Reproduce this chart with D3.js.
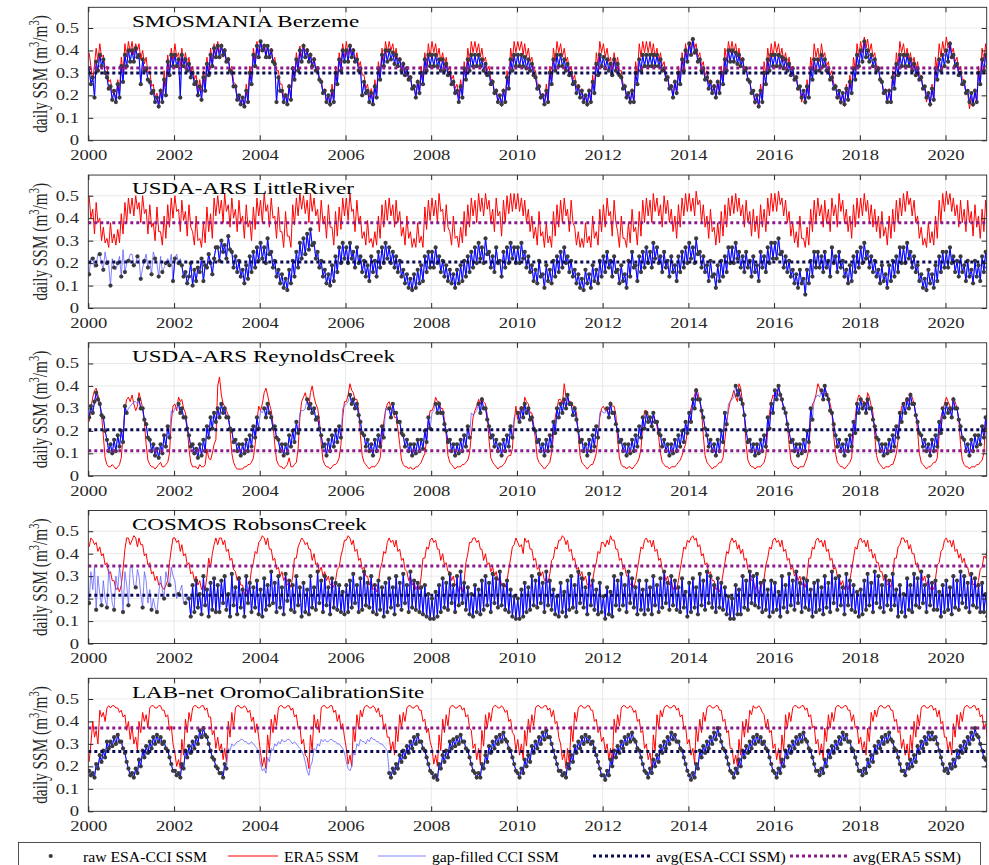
<!DOCTYPE html>
<html>
<head>
<meta charset="utf-8">
<script src="https://cdn.jsdelivr.net/npm/d3@7"></script>
<style>
  body { margin: 0; background: #fff; }
  svg { display: block; }
  text { font-family: "Liberation Serif", "Times New Roman", serif; }
</style>
</head>
<body>
<div id="chart"></div>
<script>
const _ = null; // no value for that half-month

const siteNames = ['SMOSMANIA Berzeme', 'USDA-ARS LittleRiver', 'USDA-ARS ReynoldsCreek',
                   'COSMOS RobsonsCreek', 'LAB-net OromoCalibrationSite'];
const yearTicks = [2000, 2002, 2004, 2006, 2008, 2010, 2012, 2014, 2016, 2018, 2020];
const ssmTicks = [0, 0.1, 0.2, 0.3, 0.4, 0.5];
const legendLabels = ['raw ESA-CCI SSM', 'ERA5 SSM', 'gap-filled CCI SSM', 'avg(ESA-CCI SSM)', 'avg(ERA5 SSM)'];

// long-term means, m3/m3
const avgCci  = [0.30, 0.205, 0.205, 0.215, 0.266];
const avgEra5 = [0.322, 0.38, 0.112, 0.345, 0.371];

// half-monthly SSM Jan 2000 .. Dec 2020, in 0.01 m3/m3, one row per year
const berzemeEra5 = [
  39,33, 26,34, 41,35, 43,37, 38,32, 33,26, 27,21, 22,18, 27,21, 37,30, 43,37, 44,39,
  44,38, 43,40, 43,36, 40,34, 37,30, 31,24, 25,19, 21,16, 23,18, 31,24, 38,31, 41,35,
  43,37, 39,33, 41,34, 39,33, 37,30, 33,27, 29,22, 27,21, 31,24, 37,30, 41,35, 43,37,
  44,39, 43,37, 41,35, 37,31, 33,26, 25,19, 20,16, 18,15, 25,19, 33,27, 41,35, 44,39,
  44,40, 43,38, 42,37, 41,35, 37,31, 31,25, 25,19, 21,16, 25,19, 33,27, 39,33, 42,37,
  43,37, 41,35, 39,33, 37,31, 33,27, 27,21, 23,17, 20,15, 25,19, 33,27, 39,33, 43,37,
  44,38, 43,37, 41,35, 39,33, 35,29, 29,23, 25,19, 23,17, 27,21, 35,29, 41,35, 44,39,
  44,40, 43,37, 41,35, 37,31, 35,29, 33,27, 29,23, 25,19, 27,21, 33,27, 39,33, 43,37,
  44,39, 43,37, 41,35, 39,33, 37,31, 33,27, 29,23, 25,19, 27,21, 35,29, 41,35, 44,39,
  44,39, 43,37, 41,35, 37,31, 33,27, 27,21, 23,17, 20,15, 23,17, 31,25, 41,35, 44,39,
  44,40, 44,38, 43,37, 41,35, 37,31, 31,25, 25,19, 21,16, 25,19, 33,27, 41,35, 44,39,
  43,37, 41,35, 37,31, 33,27, 29,23, 25,19, 23,17, 20,15, 23,17, 29,23, 39,33, 44,39,
  43,37, 41,35, 37,31, 39,33, 37,31, 31,25, 25,19, 21,16, 23,17, 35,29, 43,37, 44,39,
  44,39, 44,38, 43,37, 41,35, 39,33, 35,29, 29,23, 25,19, 27,21, 33,27, 39,33, 43,37,
  44,40, 46,41, 43,37, 39,33, 35,29, 31,25, 27,21, 25,19, 27,21, 33,27, 41,35, 44,39,
  44,39, 43,37, 41,35, 37,31, 33,27, 27,21, 21,16, 19,15, 25,19, 35,29, 41,35, 43,37,
  44,39, 43,37, 41,35, 39,33, 37,31, 33,27, 29,23, 23,17, 21,16, 27,21, 37,31, 43,37,
  41,35, 43,37, 39,33, 35,29, 31,25, 25,19, 21,16, 21,15, 25,19, 29,23, 37,31, 43,37,
  44,39, 46,41, 45,39, 43,37, 39,33, 33,27, 27,21, 23,17, 23,17, 31,25, 39,33, 44,39,
  43,37, 41,35, 39,33, 37,31, 35,29, 29,23, 23,17, 21,15, 25,19, 37,31, 43,37, 44,39,
  46,41, 44,39, 41,35, 37,31, 33,27, 27,21, 21,14, 19,15, 23,17, 33,27, 41,35, 43,37
];
const berzemeCci = [
  32,25, 28,19, 35,31, 38,33, 36,30, 28,23, 24,18, 22,17, 25,19, 33,26, 38,33, 40,35,
  40,35, 41,37, 38,25, 36,31, 32,27, 26,21, 22,17, 19,15, 22,17, 27,20, 35,29, 38,33,
  38,33, 36,19, 38,33, 36,31, 34,28, 30,25, 26,20, 24,18, 28,22, 34,29, 38,33, 41,37,
  42,37, 42,38, 40,35, 36,31, 30,24, 24,18, 20,16, 19,15, 22,17, 30,25, 38,33, 42,37,
  44,40, 42,37, 42,37, 40,35, 34,17, 28,22, 22,17, 20,16, 24,18, 32,27, 36,31, 40,35,
  42,37, 40,35, 38,33, 36,31, 32,27, 26,21, 22,17, 20,16, 22,17, 30,25, 36,31, 40,35,
  40,35, 42,37, 40,35, 36,31, 32,20, 26,21, 22,17, 21,16, 24,19, 32,27, 38,33, 40,35,
  40,36, 39,34, 38,33, 36,31, 34,29, 32,27, 28,23, 24,19, 26,21, 30,25, 36,31, 38,33,
  38,33, 38,33, 36,31, 36,31, 34,29, 30,25, 26,21, 22,17, 24,19, 32,27, 36,31, 38,33,
  38,33, 38,33, 36,31, 34,29, 30,25, 26,21, 22,17, 20,16, 22,17, 28,23, 36,31, 38,33,
  38,33, 38,33, 37,32, 36,31, 34,29, 28,23, 24,19, 20,16, 22,17, 30,25, 36,31, 38,33,
  38,33, 36,31, 34,29, 30,25, 26,21, 24,19, 22,17, 20,16, 22,17, 26,21, 34,29, 38,33,
  37,32, 36,31, 34,29, 36,31, 34,29, 28,23, 24,19, 21,17, 22,17, 30,25, 36,31, 38,33,
  38,33, 38,33, 38,33, 38,33, 36,31, 32,27, 28,23, 24,19, 26,21, 30,25, 36,31, 40,35,
  43,38, 45,39, 40,35, 36,31, 32,27, 28,23, 26,21, 24,19, 26,21, 30,25, 36,31, 40,35,
  40,35, 39,34, 38,33, 36,31, 32,27, 26,21, 22,17, 20,15, 22,17, 30,25, 36,31, 38,33,
  38,33, 38,33, 37,32, 36,31, 34,29, 32,27, 28,23, 24,19, 22,17, 24,19, 32,27, 36,31,
  36,31, 38,33, 36,31, 32,27, 28,23, 24,19, 22,17, 21,16, 23,18, 26,21, 32,27, 38,33,
  40,35, 44,37, 40,35, 38,33, 36,31, 32,27, 26,21, 22,17, 22,17, 28,23, 34,29, 38,33,
  38,33, 38,33, 36,31, 34,29, 32,27, 28,23, 24,19, 21,16, 23,18, 32,27, 36,31, 38,33,
  40,35, 43,37, 38,33, 34,29, 30,25, 26,21, 22,17, 21,16, 22,17, 30,25, 36,31, 38,33
];
const berzemeFill = [];

const littleRiverEra5 = [
  50,40, 44,33, 47,38, 40,30, 36,29, 31,27, 38,29, 33,28, 35,29, 42,33, 47,38, 49,42,
  49,41, 50,44, 47,38, 50,42, 44,33, 46,36, 38,30, 45,34, 34,28, 41,31, 46,36, 49,40,
  50,43, 44,34, 48,39, 43,32, 46,36, 34,28, 41,30, 31,27, 38,29, 45,34, 42,31, 49,41,
  50,42, 48,38, 51,43, 46,36, 49,40, 44,34, 48,38, 41,31, 46,36, 39,30, 45,35, 49,41,
  48,38, 51,43, 46,36, 49,40, 41,31, 45,34, 34,27, 43,32, 32,27, 46,37, 49,41, 51,44,
  50,42, 48,38, 51,43, 49,41, 44,34, 48,38, 41,31, 46,36, 36,28, 43,32, 45,35, 49,41,
  49,39, 51,43, 44,34, 48,38, 41,31, 34,28, 39,29, 31,27, 34,28, 41,31, 46,36, 48,39,
  49,41, 46,36, 48,38, 43,32, 36,28, 41,31, 34,27, 31,27, 38,29, 32,27, 45,35, 48,39,
  49,41, 48,38, 51,43, 44,34, 46,36, 34,28, 41,31, 32,27, 36,29, 43,32, 46,36, 49,41,
  48,38, 51,43, 49,41, 51,44, 48,38, 44,34, 49,41, 43,32, 48,38, 50,42, 51,43, 51,44,
  51,43, 49,41, 48,38, 44,34, 41,31, 36,28, 43,32, 34,27, 38,29, 32,27, 43,32, 46,36,
  48,38, 49,41, 44,34, 48,38, 36,28, 34,27, 31,27, 38,29, 32,27, 41,31, 34,28, 44,34,
  46,36, 49,41, 43,32, 48,38, 34,27, 41,31, 31,27, 38,29, 44,34, 36,28, 43,32, 48,38,
  49,41, 48,38, 51,43, 49,41, 46,36, 50,42, 48,38, 44,34, 41,31, 46,36, 49,41, 51,43,
  51,43, 49,41, 52,46, 48,38, 46,36, 41,31, 44,34, 36,28, 38,29, 43,32, 46,36, 49,41,
  50,42, 51,43, 49,41, 46,36, 48,38, 43,32, 44,34, 41,31, 46,36, 44,34, 49,41, 51,43,
  51,43, 52,46, 49,41, 48,38, 43,32, 38,29, 34,27, 41,31, 31,27, 36,28, 44,34, 48,38,
  49,41, 46,36, 48,38, 44,34, 49,41, 46,36, 51,43, 48,38, 44,34, 41,31, 46,36, 49,40,
  49,41, 51,43, 48,38, 46,36, 44,34, 41,31, 43,32, 36,28, 41,31, 44,34, 48,38, 49,41,
  51,43, 52,46, 49,41, 48,38, 41,31, 36,28, 31,27, 38,29, 34,28, 41,31, 48,38, 51,43,
  52,46, 51,43, 49,41, 46,36, 48,38, 44,34, 48,38, 43,32, 46,36, 41,31, 44,34, 48,38
];
const littleRiverCci = [
  15,_, 22,_, 19,_, 24,_, 17,_, 20,_, 10,_, 18,_, 20,_, 14,_, 16,_, 21,_,
  _,19, _,23, _,13, _,21, _,18, _,15, _,22, _,14, _,16, _,20, _,19, _,12,
  22,_, 20,_, 19,14, 16,11, 14,20, 10,17, 12,18, 16,22, 12,19, 18,24, 20,15, 22,27,
  27,21, 30,25, 28,22, 32,26, 25,18, 23,16, 21,14, 17,11, 19,13, 23,16, 25,18, 27,21,
  29,22, 27,20, 31,24, 25,18, 21,14, 17,11, 15,9, 13,8, 17,11, 21,14, 25,18, 29,22,
  31,24, 33,26, 35,28, 29,22, 25,18, 21,14, 17,11, 15,10, 19,12, 23,16, 27,20, 29,22,
  27,20, 29,22, 25,18, 27,20, 23,16, 21,14, 19,12, 23,16, 21,14, 25,18, 27,20, 29,22,
  27,20, 25,18, 23,16, 21,14, 17,11, 15,9, 13,8, 15,9, 17,11, 19,12, 23,16, 25,18,
  25,18, 27,20, 23,16, 21,14, 19,12, 17,11, 15,9, 17,11, 19,12, 21,14, 23,16, 25,18,
  27,20, 29,22, 27,20, 31,24, 25,18, 23,16, 27,20, 21,14, 25,18, 27,20, 29,22, 27,20,
  27,20, 29,22, 25,18, 23,16, 19,12, 17,11, 21,14, 15,9, 19,12, 17,11, 21,14, 23,16,
  25,18, 27,20, 23,16, 21,14, 17,11, 15,9, 13,8, 17,11, 15,9, 19,12, 17,11, 21,14,
  23,16, 25,18, 21,14, 23,16, 17,11, 19,12, 15,9, 21,14, 25,18, 19,12, 23,16, 25,18,
  27,20, 25,18, 29,22, 27,20, 23,16, 25,18, 21,14, 23,16, 19,12, 23,16, 25,18, 27,20,
  29,22, 27,20, 31,24, 25,18, 23,16, 19,12, 21,14, 15,9, 19,12, 21,14, 23,16, 27,20,
  27,20, 29,22, 25,18, 23,16, 25,18, 21,14, 23,16, 19,12, 25,18, 23,16, 27,20, 29,22,
  29,22, 31,24, 25,18, 23,16, 21,14, 17,11, 15,9, 17,11, 13,6, 17,11, 21,14, 25,18,
  25,18, 23,16, 25,18, 21,14, 27,20, 23,16, 25,18, 21,14, 17,11, 19,12, 23,16, 25,18,
  27,20, 29,22, 25,18, 23,16, 21,14, 17,11, 19,12, 15,9, 19,12, 21,14, 23,16, 27,20,
  27,20, 29,22, 25,18, 23,16, 19,12, 15,9, 13,8, 17,11, 15,9, 19,12, 23,16, 25,18,
  25,18, 27,20, 23,16, 21,14, 23,16, 19,12, 21,14, 17,11, 21,14, 19,12, 23,16, 25,18
];
const littleRiverFill = [
  _,22, _,18, _,24, _,20, _,25, _,19, _,22, _,17, _,23, _,26, _,20, _,24,
  24,_, 20,_, 22,_, 18,_, 24,_, 21,_, 25,_, 20,_, 23,_, 18,_, 22,_, 24,_,
  _,24, _,22
];

const reynoldsEra5 = [
  24,30, 35,38, 39,36, 33,27, 18,8, 5,4, 4,5, 4,3, 4,5, 8,18, 30,34, 35,33,
  36,32, 29,31, 37,34, 30,24, 14,7, 5,4, 4,3, 4,5, 6,4, 4,5, 6,10, 24,31,
  32,29, 35,33, 34,30, 28,22, 12,6, 4,4, 4,3, 5,4, 4,5, 12,8, 7,10, 14,16,
  40,44, 36,32, 31,29, 27,20, 10,6, 4,3, 3,3, 3,4, 4,5, 5,6, 8,14, 24,31,
  29,32, 37,39, 36,32, 29,23, 14,7, 5,4, 4,3, 4,5, 8,4, 4,5, 6,12, 26,33,
  35,37, 33,31, 37,40, 35,32, 30,25, 14,7, 5,4, 4,3, 4,5, 5,6, 8,14, 26,33,
  33,36, 41,38, 37,34, 34,29, 18,9, 6,5, 4,3, 4,4, 4,5, 6,8, 16,24, 29,32,
  33,30, 29,26, 26,21, 14,7, 5,4, 4,3, 4,3, 3,4, 4,5, 6,8, 10,16, 24,29,
  29,31, 35,33, 33,30, 30,25, 18,9, 6,5, 4,3, 4,4, 4,5, 5,6, 7,10, 18,26,
  29,31, 34,32, 35,33, 32,27, 16,8, 6,5, 4,3, 4,4, 5,6, 8,9, 9,12, 24,31,
  25,28, 31,29, 35,33, 32,28, 28,23, 16,8, 6,5, 4,3, 4,5, 6,10, 18,26, 30,34,
  34,32, 41,35, 35,33, 33,31, 31,28, 18,9, 6,5, 4,3, 4,5, 5,7, 10,18, 26,30,
  31,29, 29,27, 33,31, 31,27, 16,8, 5,4, 4,3, 4,4, 3,4, 5,6, 8,12, 22,29,
  29,27, 25,23, 27,25, 22,17, 10,6, 5,4, 4,3, 4,4, 4,5, 6,7, 9,12, 14,20,
  26,30, 33,36, 39,37, 33,29, 18,9, 6,5, 4,3, 4,4, 5,6, 6,8, 16,24, 29,33,
  35,38, 35,33, 41,39, 32,26, 14,7, 5,4, 4,3, 4,4, 4,5, 6,9, 20,28, 33,36,
  35,37, 39,37, 33,31, 28,23, 14,7, 5,4, 4,3, 4,4, 4,6, 8,12, 24,32, 33,36,
  41,39, 37,35, 39,37, 35,32, 28,18, 10,6, 5,4, 4,3, 4,5, 6,8, 18,26, 33,36,
  35,33, 33,31, 37,35, 31,28, 18,9, 6,5, 4,3, 4,4, 4,5, 5,7, 10,16, 24,31,
  31,33, 35,33, 37,35, 32,27, 20,10, 6,5, 4,3, 4,4, 5,6, 6,8, 18,26, 29,32,
  35,33, 31,29, 35,33, 30,25, 14,7, 5,4, 4,3, 4,4, 4,5, 5,6, 7,10, 24,31
];
const reynoldsCci = [
  26,31, 28,33, 37,34, 32,27, 26,20, 16,11, 14,10, 16,11, 18,13, 20,15, 31,28, _,_,
  _,_, _,_, 34,30, 30,25, 23,17, 16,11, 14,9, 12,8, 14,10, 18,13, 22,17, _,_,
  _,_, 32,28, 30,26, 26,21, 18,13, 14,10, 12,8, 14,9, 16,11, 22,17, 26,21, 28,24,
  30,26, 32,28, 30,26, 26,21, 20,15, 16,11, 14,9, 14,10, 16,11, 18,13, 22,17, 26,21,
  _,_, 30,26, 32,28, 26,21, 22,17, 16,11, 14,9, 14,10, 18,13, 20,15, 24,19, _,_,
  _,_, 34,30, 32,28, 30,25, 26,21, 18,13, 14,9, 16,11, 18,13, 20,15, 22,17, _,_,
  _,_, 36,32, 34,30, 32,27, 24,19, 18,13, 16,11, 14,9, 16,11, 18,13, 22,17, _,_,
  30,26, 32,28, 28,24, 24,19, 18,13, 16,11, 14,9, 14,10, 16,11, 16,12, 20,15, 26,21,
  _,_, 32,28, 32,28, 28,23, 20,15, 16,11, 14,9, 14,10, 16,11, 18,13, 22,17, _,_,
  _,_, 32,28, 34,30, 30,25, 22,17, 18,13, 16,11, 14,9, 16,11, 18,13, 22,17, _,_,
  28,24, 30,26, 32,28, 30,25, 26,21, 20,15, 16,11, 14,9, 16,11, 18,13, 24,19, 30,26,
  32,28, 34,30, 36,32, 32,27, 30,25, 20,15, 16,11, 14,9, 16,11, 18,13, 22,17, _,_,
  _,_, 30,26, 32,28, 28,23, 20,15, 16,11, 14,9, 14,10, 16,11, 18,13, 22,17, 26,21,
  28,24, 26,22, 28,24, 24,19, 18,13, 16,11, 14,9, 14,10, 16,11, 18,13, 20,15, 24,19,
  28,24, 34,30, 38,34, 34,29, 26,21, 18,13, 16,11, 14,9, 16,11, 20,15, 28,23, _,_,
  _,_, 40,36, 38,34, 32,27, 20,15, 16,11, 14,9, 14,10, 16,11, 18,13, 26,21, 32,28,
  38,34, 40,36, 34,30, 28,23, 20,15, 16,11, 14,9, 14,10, 16,11, 20,15, 30,25, _,_,
  _,_, 38,34, 40,36, 34,29, 28,23, 18,13, 16,11, 14,9, 16,11, 18,13, 24,19, 32,28,
  34,30, 32,28, 34,30, 30,25, 22,17, 16,11, 14,9, 14,10, 16,11, 18,13, 22,17, 28,24,
  32,28, 34,30, 36,32, 32,27, 24,19, 18,13, 16,11, 14,9, 16,11, 18,13, 24,19, 30,26,
  32,28, 30,26, 34,30, 30,25, 22,17, 16,11, 14,9, 16,11, 18,13, 18,14, 22,17, 26,21
];
const reynoldsFill = [
  _,_, _,_, _,_, _,_, _,_, _,_, _,_, _,_, _,_, _,_, _,_, 30,31,
  32,33, 33,32, _,_, _,_, _,_, _,_, _,_, _,_, _,_, _,_, _,_, 29,28,
  30,30, _,_, _,_, _,_, _,_, _,_, _,_, _,_, _,_, _,_, _,_, _,_,
  _,_, _,_, _,_, _,_, _,_, _,_, _,_, _,_, _,_, _,_, _,_, _,_,
  29,28, _,_, _,_, _,_, _,_, _,_, _,_, _,_, _,_, _,_, _,_, 28,29,
  29,30, _,_, _,_, _,_, _,_, _,_, _,_, _,_, _,_, _,_, _,_, 30,31,
  32,33, _,_, _,_, _,_, _,_, _,_, _,_, _,_, _,_, _,_, _,_, 30,29,
  _,_, _,_, _,_, _,_, _,_, _,_, _,_, _,_, _,_, _,_, _,_, _,_,
  28,29, _,_, _,_, _,_, _,_, _,_, _,_, _,_, _,_, _,_, _,_, 28,27,
  28,29, _,_, _,_, _,_, _,_, _,_, _,_, _,_, _,_, _,_, _,_, 26,27,
  _,_, _,_, _,_, _,_, _,_, _,_, _,_, _,_, _,_, _,_, _,_, _,_,
  _,_, _,_, _,_, _,_, _,_, _,_, _,_, _,_, _,_, _,_, _,_, 28,29,
  28,28, _,_, _,_, _,_, _,_, _,_, _,_, _,_, _,_, _,_, _,_, _,_,
  _,_, _,_, _,_, _,_, _,_, _,_, _,_, _,_, _,_, _,_, _,_, _,_,
  _,_, _,_, _,_, _,_, _,_, _,_, _,_, _,_, _,_, _,_, _,_, 32,33,
  34,35, _,_, _,_, _,_, _,_, _,_, _,_, _,_, _,_, _,_, _,_, _,_,
  _,_, _,_, _,_, _,_, _,_, _,_, _,_, _,_, _,_, _,_, _,_, 34,35,
  36,35
];

const robsonsEra5 = [
  43,47, 46,44, 45,41, 43,39, 40,35, 36,31, 32,28, 28,24, 25,23, 26,33, 42,47, 47,44,
  46,48, 47,43, 47,44, 44,39, 40,35, 36,31, 32,28, 30,26, 27,25, 24,26, 28,36, 42,47,
  47,45, 46,41, 44,39, 40,35, 36,31, 32,28, 30,26, 28,24, 26,24, 30,38, 34,40, 44,47,
  44,47, 47,44, 46,41, 42,37, 38,33, 32,28, 30,26, 26,22, 24,22, 27,33, 36,41, 40,45,
  46,48, 47,44, 47,42, 42,37, 38,33, 34,30, 32,28, 30,26, 27,25, 30,38, 38,43, 45,47,
  46,44, 45,42, 42,37, 40,35, 36,32, 34,30, 32,28, 30,26, 27,25, 28,33, 34,39, 42,46,
  46,48, 47,44, 46,41, 42,37, 38,33, 34,30, 30,26, 28,24, 25,23, 27,33, 36,41, 40,45,
  47,45, 46,43, 46,41, 42,37, 38,33, 32,28, 30,26, 28,24, 26,24, 30,38, 38,43, 42,46,
  47,45, 46,42, 42,37, 40,35, 36,32, 32,28, 30,26, 27,23, 25,23, 28,36, 40,45, 45,47,
  47,45, 46,42, 42,37, 40,35, 36,32, 34,30, 32,28, 30,26, 27,25, 28,33, 38,43, 44,47,
  45,43, 44,40, 47,45, 46,42, 42,37, 38,33, 34,30, 32,28, 29,27, 31,37, 38,43, 42,46,
  46,48, 47,44, 46,41, 42,37, 38,33, 34,30, 32,28, 30,26, 27,25, 28,33, 36,41, 40,45,
  45,43, 46,44, 48,46, 46,42, 42,37, 38,33, 34,30, 30,26, 27,25, 28,33, 38,43, 42,46,
  47,45, 46,43, 46,41, 42,37, 38,33, 32,28, 30,26, 28,24, 26,24, 28,33, 38,43, 42,46,
  45,47, 48,46, 47,43, 44,39, 40,35, 36,31, 32,28, 28,24, 25,23, 26,31, 36,41, 40,45,
  47,45, 46,42, 44,40, 42,37, 38,33, 32,28, 28,24, 26,22, 24,27, 29,35, 38,43, 42,46,
  47,45, 46,43, 46,41, 42,37, 38,33, 34,30, 32,28, 30,26, 27,25, 30,38, 38,43, 42,46,
  47,45, 46,43, 46,41, 42,37, 38,33, 34,30, 30,26, 28,24, 26,24, 28,33, 38,43, 42,46,
  47,45, 46,43, 46,41, 42,38, 40,36, 36,32, 32,28, 30,26, 27,25, 30,38, 38,43, 44,47,
  47,45, 46,42, 44,40, 40,35, 36,32, 32,28, 30,26, 28,24, 26,24, 29,35, 36,41, 42,46,
  47,45, 46,43, 46,41, 42,38, 40,36, 38,34, 34,30, 30,26, 27,25, 28,33, 34,39, 38,42
];
const robsonsCci = [
  18,_, _,_, 15,_, _,17, _,_, 16,_, _,_, 15,_, _,_, _,14, _,_, 17,_,
  _,_, 25,_, _,_, 16,_, _,_, _,15, _,_, 14,_, _,_, 20,_, _,26, _,_,
  _,_, 22,_, _,_, 18,_, 20,12, 26,14, 28,16, 22,13, 30,17, 24,12, 27,15, 29,14,
  26,14, 28,18, 30,15, 22,12, 31,17, 25,13, 29,16, 24,12, 30,18, 27,14, 25,16, 28,13,
  24,12, 29,15, 26,17, 32,18, 27,14, 30,16, 25,13, 31,19, 28,15, 26,14, 30,17, 25,12,
  27,14, 24,13, 30,16, 25,15, 32,18, 28,14, 30,17, 25,13, 29,16, 27,15, 26,14, 23,13,
  26,14, 28,16, 31,18, 26,14, 29,15, 32,17, 27,16, 30,14, 26,13, 28,15, 25,12, 27,14,
  29,16, 25,13, 30,17, 27,15, 31,18, 26,14, 32,16, 28,15, 27,14, 25,13, 26,12, 22,11,
  20,11, 23,12, 26,14, 29,16, 27,15, 31,18, 26,14, 30,17, 32,18, 27,15, 25,13, 22,12,
  26,14, 24,13, 28,15, 30,17, 27,14, 31,18, 29,16, 32,17, 26,15, 28,14, 24,12, 21,11,
  20,11, 24,12, 27,14, 25,15, 30,17, 28,16, 31,18, 27,14, 32,17, 28,15, 24,13, 21,12,
  27,14, 23,12, 28,15, 30,16, 26,14, 32,18, 29,16, 25,13, 31,17, 28,15, 24,13, 27,14,
  21,11, 25,13, 23,12, 30,17, 28,15, 31,17, 26,14, 32,18, 29,16, 25,13, 28,15, 24,13,
  28,15, 25,13, 30,17, 26,14, 29,16, 32,18, 27,15, 30,17, 28,15, 25,14, 29,16, 23,12,
  27,14, 29,16, 25,13, 31,17, 28,15, 32,18, 30,16, 26,14, 29,16, 27,15, 25,13, 21,11,
  20,11, 26,13, 24,13, 30,16, 28,15, 32,18, 30,17, 31,16, 27,14, 28,15, 24,12, 28,14,
  27,15, 23,12, 30,16, 26,14, 31,17, 28,15, 32,18, 27,14, 29,16, 28,15, 24,12, 27,14,
  28,15, 25,13, 30,16, 27,14, 32,18, 29,15, 30,17, 25,13, 31,17, 28,15, 26,14, 23,12,
  24,13, 28,15, 31,17, 27,14, 32,18, 30,16, 26,14, 30,17, 28,15, 31,17, 24,12, 26,14,
  22,12, 29,15, 26,14, 31,17, 29,16, 32,18, 26,14, 30,17, 27,15, 28,15, 23,12, 26,14,
  28,15, 25,13, 30,16, 28,15, 32,18, 30,16, 27,14, 31,17, 29,16, 26,14, 27,14, 22,12
];
const robsonsFill = [
  _,32, 24,34, _,30, 22,_, 28,20, _,33, 26,18, _,30, 24,34, 28,_, 32,26, _,34,
  34,26, _,33, 30,22, _,32, 28,18, 24,_, 20,16, _,22, 30,24, _,32, 28,_, 34,30,
  28,20, _,24, 26,18, _,22
];

const oromoEra5 = [
  22,30, 40,33, 36,30, 45,42, 44,40, 46,47, 46,47, 47,46, 46,44, 45,42, 43,36, 40,32,
  38,30, 33,27, 40,35, 44,40, 43,37, 46,47, 47,46, 46,47, 47,45, 45,42, 43,36, 38,30,
  26,20, 23,19, 32,25, 41,35, 44,40, 46,47, 47,46, 46,47, 47,45, 46,42, 42,34, 36,28,
  33,27, 30,23, 28,22, 40,33, 44,37, 46,47, 47,46, 46,47, 46,44, 45,40, 42,35, 39,33,
  26,20, 24,19, 34,27, 41,35, 43,38, 46,47, 47,46, 46,47, 47,45, 46,42, 43,37, 38,30,
  32,25, 24,19, 34,27, 43,37, 41,35, 46,47, 47,46, 46,47, 47,44, 45,40, 43,37, 39,33,
  28,21, 25,20, 37,31, 43,37, 45,42, 46,47, 47,46, 46,47, 46,44, 46,42, 43,37, 39,33,
  33,27, 31,25, 37,31, 43,37, 44,40, 46,47, 47,46, 46,47, 47,45, 45,40, 41,35, 37,31,
  28,21, 25,20, 34,27, 41,35, 43,38, 46,47, 47,46, 46,47, 47,45, 46,42, 43,37, 36,28,
  30,23, 28,21, 36,29, 43,37, 44,40, 46,47, 47,46, 46,47, 46,44, 45,40, 41,35, 34,27,
  32,25, 30,23, 36,29, 41,35, 43,38, 46,47, 47,46, 46,47, 47,45, 46,42, 45,39, 40,33,
  30,23, 26,19, 28,21, 38,31, 44,40, 46,47, 47,46, 46,47, 47,45, 45,40, 41,35, 37,31,
  33,27, 30,23, 28,21, 41,35, 43,38, 46,47, 47,46, 46,47, 46,44, 45,40, 41,35, 36,28,
  30,23, 26,19, 34,27, 43,37, 45,42, 46,47, 47,46, 46,47, 47,45, 46,42, 43,37, 38,30,
  32,25, 28,21, 37,31, 41,35, 44,40, 46,47, 47,46, 46,47, 47,45, 45,40, 41,35, 36,28,
  28,21, 25,20, 32,25, 40,33, 41,35, 45,43, 47,46, 46,47, 46,44, 43,37, 41,35, 36,28,
  30,23, 28,21, 34,27, 43,37, 44,40, 46,47, 47,46, 46,47, 47,45, 46,42, 43,37, 38,30,
  32,25, 30,23, 37,31, 43,37, 44,40, 46,47, 47,46, 46,47, 47,45, 45,40, 43,37, 38,30,
  33,27, 31,25, 37,31, 44,40, 45,42, 46,47, 47,46, 46,47, 47,45, 45,40, 41,35, 36,28,
  32,25, 30,23, 34,27, 40,33, 43,38, 46,47, 47,46, 46,47, 47,45, 46,42, 45,39, 40,33,
  33,27, 31,25, 39,33, 43,37, 44,40, 46,47, 47,46, 46,47, 47,45, 46,42, 43,37, 39,33
];
const oromoCci = [
  18,16, 17,15, 21,19, 25,22, 27,24, 31,28, 31,29, 33,30, 34,31, 31,28, 26,22, 19,16,
  17,15, 19,17, 23,20, 27,24, 29,26, 31,28, 33,30, 34,31, 33,30, 31,28, 27,24, 21,18,
  18,16, 17,15, 21,19, 27,24, 29,26, 31,28, 33,30, 36,33, 37,34, 33,30, 27,24, 23,20,
  19,17, 17,15, 21,19, _,_, _,_, _,_, _,_, _,_, _,_, _,_, _,_, _,_,
  _,_, _,_, _,_, _,_, _,_, _,_, _,_, _,_, _,_, _,_, _,_, _,_,
  _,_, _,_, _,_, _,_, _,_, _,_, _,_, _,_, _,_, _,_, _,_, _,_,
  _,_, _,_, _,_, _,_, _,_, _,_, _,_, _,_, _,_, _,_, _,_, _,_,
  17,15, 19,17, 21,19, 25,22, 27,24, 29,26, 31,28, 33,30, 34,31, 31,28, 27,24, 21,18,
  17,15, 16,14, 21,19, 25,22, 27,24, 31,28, 32,29, 33,30, 34,31, 31,28, 27,24, 21,18,
  17,15, 17,15, 21,19, 25,22, 29,26, 31,28, 33,30, 34,31, 35,32, 31,28, 27,24, 21,18,
  17,15, 19,17, 23,20, 25,22, 29,26, 31,28, 33,30, 35,32, 36,33, 33,30, 27,24, 21,18,
  18,16, 17,15, 21,19, 25,22, 29,26, 31,28, 33,30, 34,31, 33,30, 31,28, 25,22, 19,16,
  16,14, 18,16, 23,20, 27,24, 29,26, 31,28, 33,30, 34,31, 35,32, 31,28, 27,24, 21,18,
  17,15, 19,17, 23,20, 25,22, 29,26, 31,28, 33,30, 35,32, 34,31, 31,28, 27,24, 21,18,
  16,14, 17,15, 21,19, 27,24, 29,26, 31,28, 33,30, 35,32, 37,34, 31,28, 27,24, 21,18,
  17,15, 19,17, 23,20, 27,24, 29,26, 31,28, 33,30, 34,31, 33,30, 31,28, 27,24, 21,18,
  17,15, 19,17, 23,20, 27,24, 29,26, 31,28, 33,30, 34,31, 35,32, 31,28, 27,24, 21,18,
  18,16, 19,17, 23,20, 27,24, 29,26, 31,28, 33,30, 35,32, 34,31, 31,28, 27,24, 21,18,
  18,16, 19,17, 23,20, 25,22, 29,26, 31,28, 33,30, 34,31, 35,32, 31,28, 27,24, 21,18,
  18,16, 21,19, 23,20, 25,22, 29,26, 31,28, 33,30, 35,32, 35,32, 33,30, 27,24, 21,18,
  19,17, 21,19, 23,20, 27,24, 29,26, 31,28, 33,30, 35,32, 37,34, 33,30, 27,24, 23,20
];
const oromoFill = [
  _,_, _,_, _,_, _,_, _,_, _,_, _,_, _,_, _,_, _,_, _,_, _,_,
  _,_, _,_, _,_, _,_, _,_, _,_, _,_, _,_, _,_, _,_, _,_, _,_,
  _,_, _,_, _,_, _,_, _,_, _,_, _,_, _,_, _,_, _,_, _,_, _,_,
  _,_, _,_, _,_, 28,27, 30,29, 30,31, 31,32, 32,31, 31,30, 30,31, 30,29, 28,27,
  21,18, 19,17, 24,22, 28,27, 30,29, 31,30, 32,31, 31,32, 32,31, 30,31, 30,29, 28,27,
  25,22, 18,16, 20,22, 28,27, 30,29, 32,31, 32,31, 31,32, 32,31, 31,30, 30,29, 28,26,
  22,19, 18,20, 26,25, 30,29, 32,31, 31,30, 32,31, 33,32, 32,31, 31,30, 30,29, 28,27
];

const panels = [
  { era5: berzemeEra5, cci: berzemeCci, fill: berzemeFill },
  { era5: littleRiverEra5, cci: littleRiverCci, fill: littleRiverFill },
  { era5: reynoldsEra5, cci: reynoldsCci, fill: reynoldsFill },
  { era5: robsonsEra5, cci: robsonsCci, fill: robsonsFill },
  { era5: oromoEra5, cci: oromoCci, fill: oromoFill }
];

// layout
const W = 989, H = 865;
const left = 88.3, right = 986.7, panelH = 133, firstTop = 7.3, panelStep = 167.75;
const axisColor = '#262626';

const svg = d3.select('#chart').append('svg').attr('width', W).attr('height', H);
svg.append('rect').attr('width', W).attr('height', H).attr('fill', '#fff');

const x = d3.scaleTime()
  .domain([new Date(2000, 0, 1), new Date(2020, 11, 17)])
  .range([left, right]);
const y = d3.scaleLinear().domain([0, 0.592]).range([panelH, 0]);

// two samples per month: the 8th and the 23rd
const halfMonths = d3.range(504).map(i => new Date(2000, Math.floor(i / 2), i % 2 ? 23 : 8));
const toSeries = arr => halfMonths.map((d, i) => ({ date: d, v: arr[i] == null ? null : arr[i] / 100 }));

const line = d3.line()
  .defined(d => d.v != null)
  .x(d => x(d.date))
  .y(d => y(d.v));

const yearDates = yearTicks.map(yr => new Date(yr, 0, 1));

panels.forEach((p, k) => {
  const g = svg.append('g').attr('transform', 'translate(0,' + (firstTop + k * panelStep) + ')');

  g.append('clipPath').attr('id', 'clip' + k)
    .append('rect').attr('x', left).attr('y', 0).attr('width', right - left).attr('height', panelH);

  // grid
  g.append('g').selectAll('line').data(ssmTicks.slice(1)).join('line')
    .attr('x1', left).attr('x2', right)
    .attr('y1', d => y(d)).attr('y2', d => y(d))
    .attr('stroke', '#e3e3e3').attr('stroke-width', 0.8);
  g.append('g').selectAll('line').data(yearDates.slice(1)).join('line')
    .attr('x1', d => x(d)).attr('x2', d => x(d))
    .attr('y1', 0).attr('y2', panelH)
    .attr('stroke', '#e3e3e3').attr('stroke-width', 0.8);

  const era5 = toSeries(p.era5);
  const raw = toSeries(p.cci);
  const filled = toSeries(halfMonths.map((d, i) => p.cci[i] ?? p.fill[i] ?? null));

  const plot = g.append('g').attr('clip-path', 'url(#clip' + k + ')');

  plot.append('path').datum(era5).attr('d', line)
    .attr('fill', 'none').attr('stroke', '#ff0000').attr('stroke-width', 1);
  plot.append('path').datum(filled).attr('d', line)
    .attr('fill', 'none').attr('stroke', '#5a5aff').attr('stroke-opacity', 0.75).attr('stroke-width', 1);
  plot.append('path').datum(raw).attr('d', line)
    .attr('fill', 'none').attr('stroke', '#0000ff').attr('stroke-width', 1);
  plot.append('g').selectAll('circle').data(raw.filter(d => d.v != null)).join('circle')
    .attr('cx', d => x(d.date)).attr('cy', d => y(d.v)).attr('r', 2.1)
    .attr('fill', '#3a3a40');

  plot.append('line')
    .attr('x1', left).attr('x2', right)
    .attr('y1', y(avgEra5[k])).attr('y2', y(avgEra5[k]))
    .attr('stroke', '#8b1a8b').attr('stroke-width', 3).attr('stroke-dasharray', '3,3');
  plot.append('line')
    .attr('x1', left).attr('x2', right)
    .attr('y1', y(avgCci[k])).attr('y2', y(avgCci[k]))
    .attr('stroke', '#0c0c55').attr('stroke-width', 3).attr('stroke-dasharray', '3,3');

  // axes, ticks pointing inwards on all four sides
  const xAxis = g.append('g').attr('transform', 'translate(0,' + panelH + ')')
    .call(d3.axisBottom(x).tickValues(yearDates).tickFormat(d3.timeFormat('%Y'))
      .tickSizeInner(-5).tickSizeOuter(0).tickPadding(10));
  const xTop = g.append('g')
    .call(d3.axisTop(x).tickValues(yearDates).tickFormat('').tickSizeInner(-5).tickSizeOuter(0));
  const yAxis = g.append('g').attr('transform', 'translate(' + left + ',0)')
    .call(d3.axisLeft(y).tickValues(ssmTicks).tickFormat(d => d === 0 ? '0' : d3.format('.1f')(d))
      .tickSizeInner(-5).tickSizeOuter(0).tickPadding(7));
  const yRight = g.append('g').attr('transform', 'translate(' + right + ',0)')
    .call(d3.axisRight(y).tickValues(ssmTicks).tickFormat('').tickSizeInner(-5).tickSizeOuter(0));

  [xAxis, xTop, yAxis, yRight].forEach(a => {
    a.select('.domain').remove();
    a.selectAll('.tick line').attr('stroke', axisColor);
    a.selectAll('.tick text')
      .attr('fill', axisColor)
      .attr('font-family', '"Liberation Serif", "Times New Roman", serif')
      .attr('font-size', 14)
      .attr('transform', 'scale(1.33,1)');
  });

  g.append('rect')
    .attr('x', left).attr('y', 0).attr('width', right - left).attr('height', panelH)
    .attr('fill', 'none').attr('stroke', axisColor).attr('stroke-width', 0.9);

  // title inside the axes
  g.append('text')
    .attr('transform', 'translate(132,19.4) scale(1.44,1)')
    .attr('font-size', 16).attr('fill', '#000')
    .text(siteNames[k]);

  // y label
  const yl = g.append('text')
    .attr('transform', 'translate(47,66.7) scale(1.33,1) rotate(-90)')
    .attr('text-anchor', 'middle').attr('font-size', 15.3).attr('fill', axisColor);
  yl.append('tspan').text('daily SSM (m');
  yl.append('tspan').attr('dy', -6).attr('font-size', 10.5).text('3');
  yl.append('tspan').attr('dy', 6).text('/m');
  yl.append('tspan').attr('dy', -6).attr('font-size', 10.5).text('3');
  yl.append('tspan').attr('dy', 6).text(')');
});

// legend
const lg = svg.append('g');
lg.append('rect').attr('x', 18.5).attr('y', 842.5).attr('width', 962).attr('height', 40)
  .attr('fill', '#fff').attr('stroke', axisColor).attr('stroke-width', 0.8);
const ly = 856;
lg.append('circle').attr('cx', 50.7).attr('cy', ly).attr('r', 2.1).attr('fill', '#3a3a40');
lg.append('line').attr('x1', 228).attr('x2', 278).attr('y1', ly).attr('y2', ly)
  .attr('stroke', '#ff0000').attr('stroke-width', 1);
lg.append('line').attr('x1', 378).attr('x2', 426).attr('y1', ly).attr('y2', ly)
  .attr('stroke', '#5a5aff').attr('stroke-opacity', 0.75).attr('stroke-width', 1);
lg.append('line').attr('x1', 593).attr('x2', 650).attr('y1', ly).attr('y2', ly)
  .attr('stroke', '#0c0c55').attr('stroke-width', 3).attr('stroke-dasharray', '3,3');
lg.append('line').attr('x1', 790).attr('x2', 848).attr('y1', ly).attr('y2', ly)
  .attr('stroke', '#8b1a8b').attr('stroke-width', 3).attr('stroke-dasharray', '3,3');
const legendX = [83, 284, 432, 656, 853];
lg.selectAll('text.leg').data(legendLabels).join('text')
  .attr('class', 'leg')
  .attr('transform', (d, i) => 'translate(' + legendX[i] + ',861.5) scale(1.05,1)')
  .attr('font-size', 15).attr('fill', '#000')
  .text(d => d);
</script>
</body>
</html>
